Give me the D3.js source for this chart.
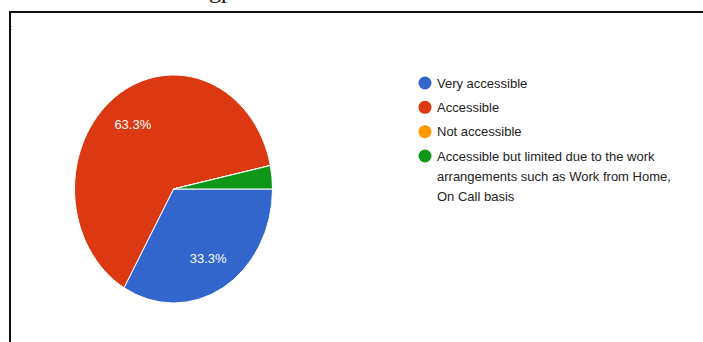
<!DOCTYPE html>
<html>
<head>
<meta charset="utf-8">
<script src="https://cdn.jsdelivr.net/npm/d3@7"></script>
<style>
  html, body { margin: 0; padding: 0; background: #fff; }
  svg { display: block; }
</style>
</head>
<body>
<svg id="chart" width="703" height="342"></svg>
<script>
// Survey answers and their shares (percent)
const categories = [
  "Very accessible",
  "Accessible",
  "Not accessible",
  "Accessible but limited due to the work arrangements such as Work from Home, On Call basis"
];
const values = [33.3, 63.3, 0, 3.3];
const colors = ["#3366cc", "#dc3912", "#ff9900", "#109618"];
// Legend text broken into display lines
const legendLines = [
  ["Very accessible"],
  ["Accessible"],
  ["Not accessible"],
  ["Accessible but limited due to the work", "arrangements such as Work from Home,", "On Call basis"]
];

const svg = d3.select("#chart");
const W = 703, H = 342;

// Document frame around the figure
svg.append("line").attr("x1", 9.5).attr("x2", W).attr("y1", 12).attr("y2", 12)
  .attr("stroke", "#111").attr("stroke-width", 2);
svg.append("line").attr("x1", 10).attr("x2", 10).attr("y1", 11).attr("y2", H)
  .attr("stroke", "#111").attr("stroke-width", 2);

// Bottom edge of the caption line above the frame
svg.append("text").attr("x", 209).attr("y", -2)
  .attr("font-family", "'Liberation Serif', 'Times New Roman', serif")
  .attr("font-size", 24).attr("fill", "#111").text("gp");
svg.append("text").attr("x", 10).attr("y", 30)
  .attr("font-family", "'Liberation Serif', serif")
  .attr("font-size", 8).attr("fill", "#333").text(":");

// Pie (slightly elliptical, as laid out in the document)
const cx = 173.5, cy = 189, ry = 114, rx = 99;
const pie = d3.pie().sort(null).value(d => d)
  .startAngle(Math.PI / 2).endAngle(Math.PI / 2 + 2 * Math.PI);
const arcs = pie(values);
const arc = d3.arc().innerRadius(0).outerRadius(ry);
const labelArc = d3.arc().innerRadius(ry * 0.7).outerRadius(ry * 0.7);

const g = svg.append("g").attr("transform", `translate(${cx},${cy})`);
const slices = g.append("g").attr("transform", `scale(${rx / ry},1)`);
slices.selectAll("path").data(arcs).join("path")
  .attr("d", arc)
  .attr("fill", (d, i) => colors[i])
  .attr("stroke", "#fff")
  .attr("stroke-width", 1)
  .attr("vector-effect", "non-scaling-stroke");

g.selectAll("text.pct").data(arcs.filter(d => d.data >= 5)).join("text")
  .attr("class", "pct")
  .attr("x", d => labelArc.centroid(d)[0] * rx / ry)
  .attr("y", d => labelArc.centroid(d)[1])
  .attr("dy", "0.36em")
  .attr("text-anchor", "middle")
  .attr("font-family", "Arial, 'Liberation Sans', sans-serif")
  .attr("font-size", 13)
  .attr("fill", "#fff")
  .text(d => d.data.toFixed(1) + "%");

// Legend
const rowY = d3.scalePoint().domain(d3.range(categories.length)).range([83, 156]);
const legend = svg.append("g");
const items = legend.selectAll("g").data(categories).join("g")
  .attr("transform", (d, i) => `translate(425,${rowY(i)})`);
items.append("circle").attr("r", 6.5).attr("fill", (d, i) => colors[i]);
items.append("text")
  .attr("x", 12)
  .attr("font-family", "Arial, 'Liberation Sans', sans-serif")
  .attr("font-size", 13)
  .attr("fill", "#222")
  .selectAll("tspan").data((d, i) => legendLines[i]).join("tspan")
  .attr("x", 12)
  .attr("y", (d, j) => j * 20)
  .attr("dy", "0.36em")
  .text(d => d);
</script>
</body>
</html>
